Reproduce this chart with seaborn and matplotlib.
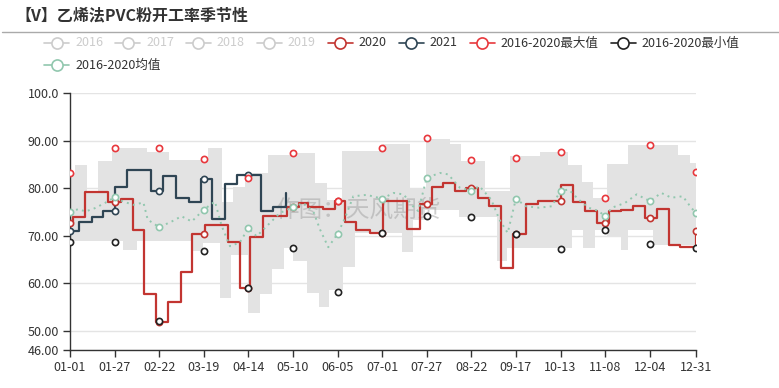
import numpy as np
import pandas as pd
import matplotlib
matplotlib.use("Agg")
import matplotlib.pyplot as plt
import seaborn as sns
from matplotlib.lines import Line2D

sns.set_theme(style="white")
plt.rcParams['font.family'] = ['Noto Sans CJK SC', 'DejaVu Sans']

# x axis = day of year (2020 calendar), labels every 26 days
tick_days = [0, 26, 52, 78, 104, 130, 156, 182, 208, 234, 260, 286, 312, 338, 365]
tick_labels = ['01-01', '01-27', '02-22', '03-19', '04-14', '05-10', '06-05', '07-01',
               '07-27', '08-22', '09-17', '10-13', '11-08', '12-04', '12-31']
y_ticks = [46, 50, 60, 70, 80, 90, 100]
y_labels = ['46.00', '50.00', '60.00', '70.00', '80.00', '90.00', '100.0']

# 2020 weekly rate (step start day, value)
days_2020 = [0, 1.5, 8.5, 22, 29.5, 36.5, 43, 50, 57, 64.5, 71, 78.5, 92, 99, 105, 112.5,
             126.5, 133.5, 138.5, 147.5, 154.5, 160.5, 167, 175, 182.5, 196.5, 204, 211,
             217.5, 224.5, 231, 238, 244.5, 251.5, 258.5, 266, 273, 286.5, 293, 300.5,
             307, 314, 321.5, 328.5, 335, 342, 349, 355.5, 365]
vals_2020 = [72.7, 74.0, 79.2, 77.0, 77.8, 71.3, 57.8, 51.9, 56.0, 62.4, 70.4, 72.3, 68.7,
             59.1, 69.8, 74.1, 76.1, 76.9, 76.0, 75.6, 77.3, 72.9, 71.3, 70.6, 77.4, 71.5,
             76.6, 80.3, 81.1, 79.5, 80.1, 78.0, 76.2, 63.3, 70.3, 76.6, 77.3, 80.6, 77.1,
             75.2, 72.7, 75.2, 75.4, 76.2, 73.8, 75.7, 68.0, 67.6, 70.9]

# 2021 weekly rate
days_2021 = [0, 5.4, 12.6, 19.4, 26.2, 33.4, 47.5, 54.3, 62, 69.3, 76.3, 83, 90.6, 97.4,
             111.2, 118.4, 126]
vals_2021 = [71.0, 72.9, 74.0, 75.3, 80.3, 83.8, 79.5, 82.5, 78.0, 77.1, 82.0, 73.6, 80.9,
             82.8, 75.2, 76.1, 79.0]

# 2016-2020 mean
mean_days = [0, 5, 9, 14.5, 20.4, 26, 31, 37, 42.8, 45.3, 52, 59.3, 65, 71, 78, 84.5, 88.5,
             93.3, 99, 104, 108.8, 116.6, 122.4, 130, 136, 141.9, 145.8, 150.6, 156, 160.3,
             165.2, 173, 182, 188.7, 194.5, 200, 203, 208, 215.7, 220.5, 227.3, 234, 238.8,
             245.6, 250.4, 255.2, 260, 265.8, 273.5, 281, 286, 290.9, 296.6, 302.4, 308.2,
             312, 316, 323.6, 330.4, 338, 344.8, 350.6, 357.3, 362.2, 365]
mean_vals = [75.1, 75.6, 75.1, 75.8, 76.9, 78.1, 77.2, 76.5, 77.0, 73.4, 71.8, 73.0, 74.1,
             73.0, 75.5, 77.2, 72.0, 67.8, 68.6, 71.6, 69.9, 72.7, 74.8, 76.0, 76.9, 75.1,
             71.3, 67.6, 70.4, 73.7, 78.3, 78.6, 77.8, 79.0, 78.7, 76.2, 75.2, 82.2, 83.2,
             82.9, 80.1, 79.5, 80.4, 77.6, 73.4, 70.6, 77.8, 76.2, 75.9, 76.2, 79.5, 79.7,
             77.6, 75.9, 75.2, 74.1, 75.9, 76.9, 78.7, 77.3, 79.0, 78.0, 78.3, 75.9, 74.8]

# 2016-2020 max / min, shown at the labelled days
max_marks = [83.2, 88.5, 88.5, 86.2, 82.1, 87.3, 77.3, 88.5, 90.5, 85.9, 86.4, 87.6, 78.0, 89.1, 83.3]
min_marks = [68.6, 68.6, 52.0, 66.8, 59.1, 67.5, 58.2, 70.6, 74.2, 73.9, 70.3, 67.3, 71.2, 68.2, 67.5]

# grey max-min band (step start day, value)
band_hi_days = [0, 3, 9.7, 16.5, 24.3, 44.7, 58, 80.5, 88.4, 95, 102, 115.4, 130, 143, 149.6,
                158.4, 182.7, 198.3, 207.6, 221.6, 228, 242, 256.6, 274, 290.6, 298.4, 305.2,
                313, 325.6, 354.7, 361.5, 365]
band_hi_vals = [83.2, 84.9, 79.5, 85.7, 88.4, 87.5, 86.0, 88.5, 77.0, 80.3, 83.2, 86.9, 87.3,
                81.1, 77.5, 87.9, 89.2, 80.0, 90.4, 89.2, 85.7, 79.5, 86.7, 87.7, 84.9, 81.4,
                78.0, 85.0, 89.1, 87.0, 85.3, 85.3]
band_lo_days = [0, 31, 38.9, 71, 77.6, 87.3, 94, 104, 111, 118, 125, 130, 138, 145, 151, 159,
                166, 193.5, 200, 207, 227, 249, 255, 292.5, 299.3, 306, 313, 321, 325.6, 340, 365]
band_lo_vals = [68.8, 67.1, 68.8, 66.8, 68.5, 57.0, 66.0, 53.8, 57.7, 63.0, 67.5, 64.7, 58.0,
                55.1, 58.7, 63.5, 70.6, 66.6, 73.4, 75.4, 74.0, 64.7, 67.4, 71.3, 67.4, 71.3,
                69.9, 67.1, 71.3, 68.1, 68.1]

c2020 = '#c23531'
c2021 = '#2f4554'
cmax = '#e8383d'
cmin = '#222222'
cmean = '#91c7ae'


def step_at(days, vals, t):
    idx = np.searchsorted(np.asarray(days), np.asarray(t), side='right') - 1
    return np.asarray(vals)[np.clip(idx, 0, len(vals) - 1)]


fig = plt.figure(figsize=(7.79, 3.88), dpi=100)
ax = fig.add_axes([70 / 779, 38 / 388, 626 / 779, 257 / 388])

# band
all_days = np.union1d(band_hi_days, band_lo_days)
ax.fill_between(all_days, step_at(band_lo_days, band_lo_vals, all_days),
                step_at(band_hi_days, band_hi_vals, all_days),
                step='post', color='#e3e3e3', lw=0, zorder=1)

# watermark
ax.text(358 / 779, 1 - 210 / 388, '作图：天风期货', transform=fig.transFigure,
        ha='center', va='center', fontsize=17, color='#a0a0a0', alpha=0.5, zorder=2)

sns.lineplot(x=days_2020, y=vals_2020, ax=ax, color=c2020, linewidth=1.6,
             drawstyle='steps-post', estimator=None, zorder=3)
sns.lineplot(x=days_2021, y=vals_2021, ax=ax, color=c2021, linewidth=1.6,
             drawstyle='steps-post', estimator=None, zorder=3.1)
sns.lineplot(x=mean_days, y=mean_vals, ax=ax, color=cmean, linewidth=1.4,
             linestyle=(0, (1, 2.2)), estimator=None, zorder=3.2)

# hollow markers at labelled days
marks = [
    (tick_days, step_at(days_2020, vals_2020, tick_days), c2020),
    ([d for d in tick_days if d <= days_2021[-1]],
     step_at(days_2021, vals_2021, [d for d in tick_days if d <= days_2021[-1]]), c2021),
    (tick_days, max_marks, cmax),
    (tick_days, min_marks, cmin),
    (tick_days, [v for d, v in zip(mean_days, mean_vals) if d in tick_days], cmean),
]
for i, (mx, my, c) in enumerate(marks):
    sns.scatterplot(x=mx, y=my, ax=ax, color='white', edgecolor=c, linewidth=1.2,
                    s=20, zorder=4 + i * 0.1, legend=False)

ax.set_xlim(0, 365)
ax.set_ylim(46, 100)
ax.set_xticks(tick_days)
ax.set_xticklabels(tick_labels)
ax.set_yticks(y_ticks)
ax.set_yticklabels(y_labels)
ax.set_xlabel('')
ax.set_ylabel('')
ax.set_axisbelow(True)
ax.yaxis.grid(True, color='#e4e4e4', linewidth=1)
ax.xaxis.grid(False)
for s in ['top', 'right']:
    ax.spines[s].set_visible(False)
for s in ['left', 'bottom']:
    ax.spines[s].set_color('#333333')
    ax.spines[s].set_linewidth(1)
ax.tick_params(axis='both', which='both', bottom=True, left=True, direction='out',
               length=5, width=1, color='#333333', labelsize=9, labelcolor='#333333', pad=3)

# title and separator
fig.text(15 / 779, 1 - 15 / 388, '【V】乙烯法PVC粉开工率季节性', fontsize=11.5,
         fontweight='bold', color='#333333', va='center', ha='left')
fig.add_artist(Line2D([2 / 779, 1], [1 - 32 / 388] * 2, color='#aaaaaa', lw=1))

# legend
legend_rows = [
    [('2016', '#cccccc', '#cccccc'), ('2017', '#cccccc', '#cccccc'),
     ('2018', '#cccccc', '#cccccc'), ('2019', '#cccccc', '#cccccc'),
     ('2020', c2020, '#333333'), ('2021', c2021, '#333333'),
     ('2016-2020最大值', cmax, '#333333'), ('2016-2020最小值', cmin, '#333333')],
    [('2016-2020均值', cmean, '#333333')],
]
renderer = fig.canvas.get_renderer()
for row, ypx in zip(legend_rows, [43, 65]):
    x = 44
    yf = 1 - ypx / 388
    for lab, c, tc in row:
        fig.add_artist(Line2D([x / 779, (x + 25) / 779], [yf, yf], color=c, lw=1.2))
        fig.add_artist(Line2D([(x + 12.5) / 779], [yf], color=c, marker='o', markersize=8,
                              markerfacecolor='white', markeredgewidth=1.2, lw=0))
        t = fig.text((x + 31) / 779, yf, lab, fontsize=9, color=tc, va='center', ha='left')
        w = t.get_window_extent(renderer=renderer).width
        x = x + 31 + w + 12

fig.savefig('out.png', dpi=100)
